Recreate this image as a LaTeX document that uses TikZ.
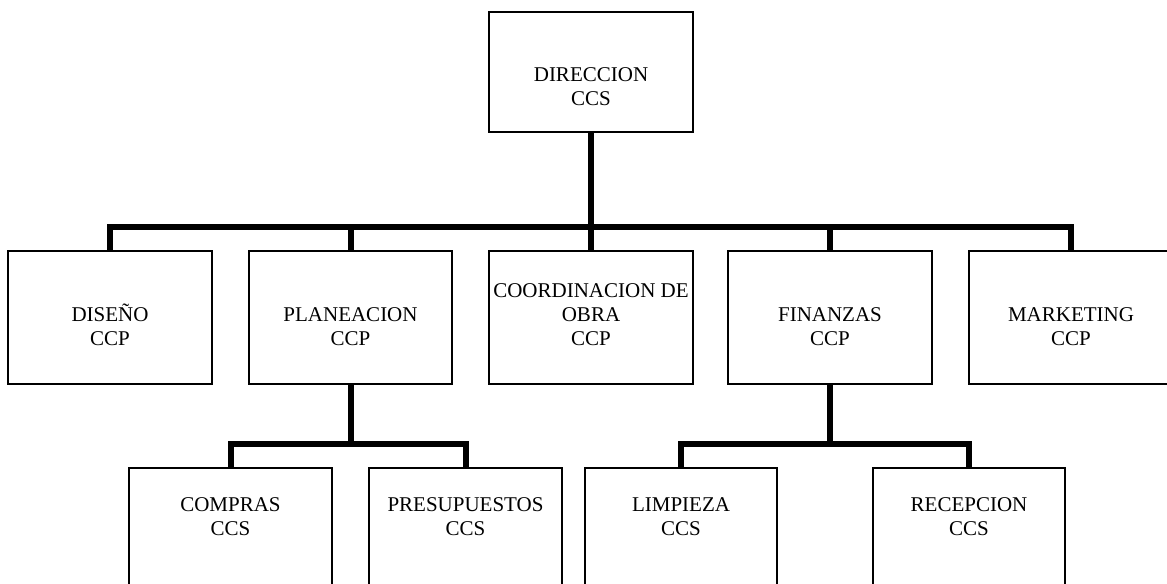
\documentclass[tikz,border=0pt]{standalone}
\usepackage{fontspec}
\setmainfont{Liberation Serif}

\tikzset{every picture/.style={line width=0.75pt}}
\tikzset{
  unitbox/.style={draw, line width=1pt, minimum width=153pt, minimum height=99.75pt, inner sep=0pt},
  unittext/.style={align=center, inner sep=0pt, font=\fontsize{15.75}{18}\selectfont},
  link/.style={line width=4.5pt}
}

\begin{document}
\begin{tikzpicture}[x=0.75pt,y=0.75pt,yscale=-1,xscale=1]
	\useasboundingbox (0,0) rectangle (1167,584);
	\clip (0,0) rectangle (1167,584);

	%Shape: Rectangle [top]
	\node[unitbox, minimum height=90pt] (direccion) at (591,72) {};
	%Shape: Rectangle [second row]
	\node[unitbox] (diseno) at (110,317.5) {};
	\node[unitbox, minimum width=152.25pt] (planeacion) at (350.5,317.5) {};
	\node[unitbox] (obra) at (591,317.5) {};
	\node[unitbox] (finanzas) at (830,317.5) {};
	\node[unitbox] (marketing) at (1071,317.5) {};
	%Shape: Rectangle [third row]
	\node[unitbox, minimum width=152.25pt, minimum height=105pt] (compras) at (230.5,538) {};
	\node[unitbox, minimum width=144.75pt, minimum height=105pt] (presupuestos) at (465.5,538) {};
	\node[unitbox, minimum width=144pt, minimum height=105pt] (limpieza) at (681,538) {};
	\node[unitbox, minimum width=144pt, minimum height=105pt] (recepcion) at (969,538) {};

	%Straight Lines [top bus]
	\coordinate (topbus) at (direccion.south |- 0,227);
	\draw[link] (direccion.south) -- (topbus);
	\foreach \n in {diseno,planeacion,obra,finanzas,marketing}
		\draw[link] (topbus) -| (\n.north);
	%Straight Lines [planeacion bus]
	\coordinate (planbus) at (planeacion.south |- 0,444);
	\draw[link] (planeacion.south) -- (planbus);
	\foreach \n in {compras,presupuestos}
		\draw[link] (planbus) -| (\n.north);
	%Straight Lines [finanzas bus]
	\coordinate (finbus) at (finanzas.south |- 0,444);
	\draw[link] (finanzas.south) -- (finbus);
	\foreach \n in {limpieza,recepcion}
		\draw[link] (finbus) -| (\n.north);

	% Text Node
	\node[unittext] (direccionlbl) at (591,86.5) {DIRECCION\\CCS};
	% Text Node
	\node[unittext] (disenolbl) at (110,325) {DISEÑO\\CCP};
	% Text Node
	\node[unittext] (planeacionlbl) at (350.5,326.5) {PLANEACION\\CCP};
	% Text Node
	\node[unittext] (obralbl) at (591,314.5) {COORDINACION DE\\OBRA\\CCP};
	% Text Node
	\node[unittext] (finanzaslbl) at (830,326.5) {FINANZAS\\CCP};
	% Text Node
	\node[unittext] (marketinglbl) at (1071,326.5) {MARKETING\\CCP};
	% Text Node
	\node[unittext] (compraslbl) at (230.5,517) {COMPRAS\\CCS};
	% Text Node
	\node[unittext] (presupuestoslbl) at (465.5,517) {PRESUPUESTOS\\CCS};
	% Text Node
	\node[unittext] (limpiezalbl) at (681,517) {LIMPIEZA\\CCS};
	% Text Node
	\node[unittext] (recepcionlbl) at (969,517) {RECEPCION\\CCS};

\end{tikzpicture}
\end{document}
